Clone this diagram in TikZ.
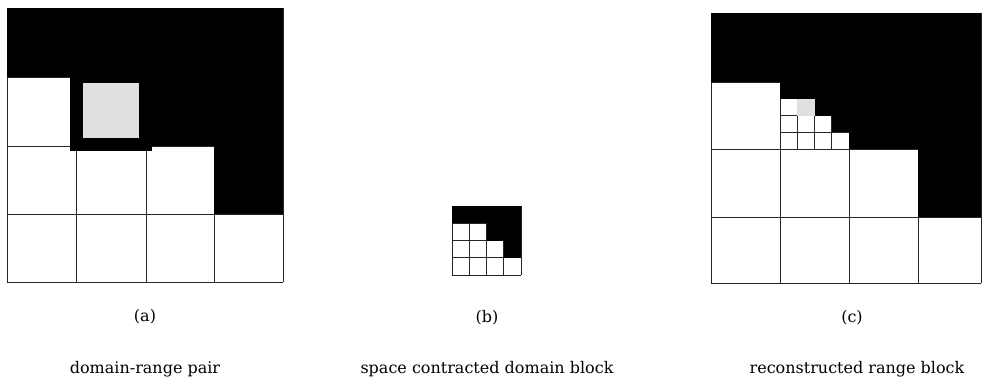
\documentclass[tikz,border=0pt]{standalone}
\usepackage{fontspec}
\setmainfont{DejaVu Serif}
\begin{document}
\begin{tikzpicture}[x=1pt,y=-1pt,
  gridline/.style={line width=0.7pt, draw=black!85},
  blk/.style={fill=black},
  stip/.style={fill=black!12},
  lbl/.style={font=\fontsize{16}{18}\selectfont, inner sep=0pt}]
\useasboundingbox (0,0) rectangle (984,380);
\fill[white] (0,0) rectangle (984,380);
% ---- panel (a): domain-range pair
\foreach \x in {7,76,146,214,283} \draw[gridline] (\x,8) -- (\x,282);
\foreach \y in {8,77,146,214,282} \draw[gridline] (7,\y) -- (283,\y);
\fill[blk] (7,8) rectangle (283,77);
\fill[blk] (214,8) rectangle (283,214);
\fill[blk] (70,77) rectangle (214,146);
\fill[blk] (70,146) rectangle (152,151);
\fill[stip] (83,83) rectangle (139,138);
% ---- panel (b): contracted domain block
\foreach \i in {0,...,4} {
  \draw[gridline] ({452+17.25*\i},206) -- ({452+17.25*\i},275);
  \draw[gridline] (452,{206+17.25*\i}) -- (521,{206+17.25*\i});
}
\fill[blk] (452,206) rectangle (521,223.25);
\fill[blk] (486.5,223.25) rectangle (521,240.5);
\fill[blk] (503.75,240.5) rectangle (521,257.75);
% ---- panel (c): reconstructed range block
\foreach \x in {711,780,849,918,981} \draw[gridline] (\x,13) -- (\x,283);
\foreach \y in {13,82,149,217,283} \draw[gridline] (711,\y) -- (981,\y);
\foreach \i in {1,...,3} {
  \draw[gridline] ({780+17.25*\i},82) -- ({780+17.25*\i},149);
  \draw[gridline] (780,{82+16.75*\i}) -- (849,{82+16.75*\i});
}
\fill[blk] (711,13) rectangle (981,82);
\fill[blk] (849,82) rectangle (981,149);
\fill[blk] (918,149) rectangle (981,217);
\fill[blk] (780,82) rectangle (849,98.75);
\fill[blk] (814.5,98.75) rectangle (849,115.5);
\fill[blk] (831.75,115.5) rectangle (849,132.25);
\fill[stip] (797.25,98.75) rectangle (814.5,115.5);
% ---- labels
\node[lbl] (la) at (145,317) {(a)};
\node[lbl] (lb) at (487,318) {(b)};
\node[lbl] (lc) at (852,318) {(c)};
\node[lbl, anchor=base] (ta) at (145,373) {domain-range pair};
\node[lbl, anchor=base] (tb) at (487,373) {space contracted domain block};
\node[lbl, anchor=base] (tc) at (857,373) {reconstructed range block};
\end{tikzpicture}
\end{document}
